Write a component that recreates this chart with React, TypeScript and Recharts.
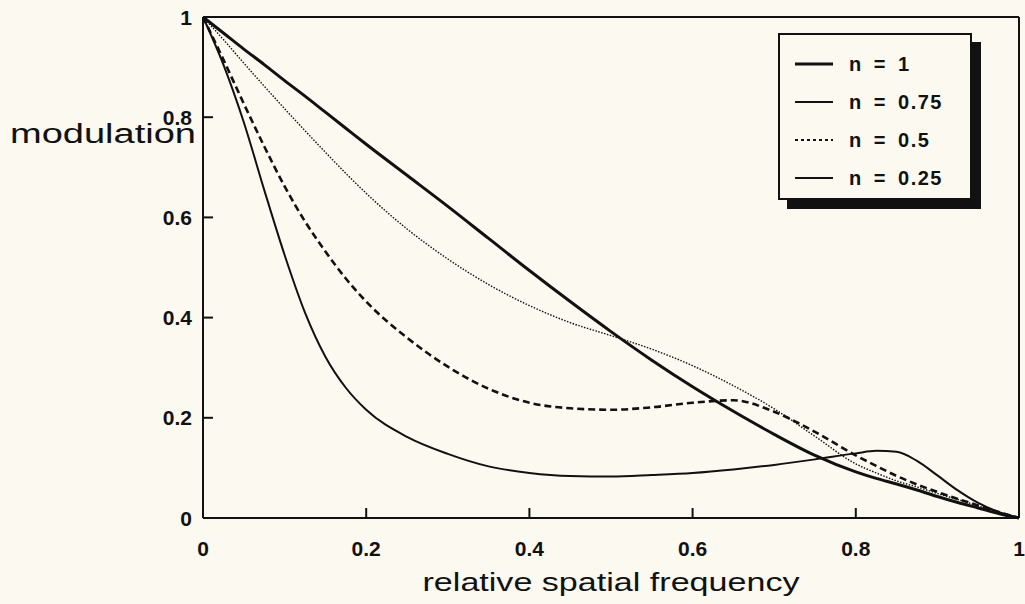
import { LineChart, Line, XAxis, YAxis, ReferenceLine, Legend } from 'recharts';

// relative spatial frequency (x) and modulation values
const freq = [0, 0.025, 0.05, 0.075, 0.1, 0.125, 0.15, 0.175, 0.2, 0.25, 0.3, 0.35, 0.4, 0.45, 0.5, 0.55, 0.6, 0.65, 0.7, 0.75, 0.8, 0.825, 0.85, 0.875, 0.9, 0.925, 0.95, 0.975, 1];
const n1 = [1, 0.968, 0.936, 0.905, 0.873, 0.842, 0.81, 0.778, 0.746, 0.684, 0.622, 0.558, 0.494, 0.432, 0.372, 0.315, 0.262, 0.213, 0.167, 0.125, 0.092, 0.079, 0.068, 0.056, 0.043, 0.031, 0.02, 0.009, 0];
const n075 = [1, 0.955, 0.908, 0.862, 0.817, 0.773, 0.73, 0.688, 0.648, 0.577, 0.517, 0.466, 0.424, 0.39, 0.364, 0.337, 0.304, 0.264, 0.218, 0.163, 0.108, 0.09, 0.074, 0.062, 0.049, 0.037, 0.024, 0.011, 0];
const n05 = [1, 0.915, 0.827, 0.742, 0.662, 0.592, 0.532, 0.478, 0.432, 0.36, 0.302, 0.258, 0.23, 0.219, 0.216, 0.221, 0.23, 0.235, 0.212, 0.172, 0.125, 0.104, 0.084, 0.067, 0.052, 0.038, 0.025, 0.012, 0];
const n025 = [1, 0.905, 0.79, 0.655, 0.525, 0.41, 0.322, 0.26, 0.216, 0.162, 0.128, 0.103, 0.09, 0.084, 0.083, 0.086, 0.09, 0.097, 0.106, 0.117, 0.129, 0.134, 0.132, 0.114, 0.085, 0.055, 0.03, 0.012, 0];

const xTicks = [0, 0.2, 0.4, 0.6, 0.8, 1];
const yTicks = [0, 0.2, 0.4, 0.6, 0.8, 1];

const ink = '#111';
const paper = '#fbf9f0';
const font = '"Liberation Sans", Arial, sans-serif';

const series = [
  { key: 'n1', label: 'n = 1', width: 3, dash: undefined, legendWidth: 3, legendDash: undefined },
  { key: 'n075', label: 'n = 0.75', width: 1.4, dash: '1.5 1.5', legendWidth: 2, legendDash: undefined },
  { key: 'n05', label: 'n = 0.5', width: 2.6, dash: '7 4', legendWidth: 2, legendDash: '3 3' },
  { key: 'n025', label: 'n = 0.25', width: 2, dash: undefined, legendWidth: 2.2, legendDash: undefined },
];

const data = freq.map((f, i) => ({ f, n1: n1[i], n075: n075[i], n05: n05[i], n025: n025[i] }));

const tickText = { fill: ink, fontSize: 21, fontWeight: 700, fontFamily: font };

// tick label plus a short tick mark pointing into the plot
function XTick(p: any) {
  const top = p.y - p.tickMargin;
  return (
    <g>
      {p.payload.value > 0 && p.payload.value < 1 && (
        <path d={`M${p.x},${top}v-10`} stroke={ink} strokeWidth={2} fill="none" />
      )}
      <text x={p.x} y={p.y} dy="0.36em" textAnchor="middle" {...tickText}>
        {p.payload.value}
      </text>
    </g>
  );
}

function YTick(p: any) {
  const left = p.x + p.tickMargin;
  return (
    <g>
      {p.payload.value > 0 && p.payload.value < 1 && (
        <path d={`M${left},${p.y}h10`} stroke={ink} strokeWidth={2} fill="none" />
      )}
      <text x={p.x} y={p.y} dy="0.36em" textAnchor="end" {...tickText}>
        {p.payload.value}
      </text>
    </g>
  );
}

function LegendBox() {
  return (
    <div
      style={{
        width: 190,
        height: 163,
        border: `2px solid ${ink}`,
        background: paper,
        boxShadow: `9px 9px 0 ${ink}`,
        position: 'relative',
        fontFamily: font,
        fontWeight: 700,
        fontSize: 20,
        letterSpacing: 1.5,
        wordSpacing: 4,
        color: ink,
      }}
    >
      {series.map((s, i) => (
        <div
          key={s.key}
          style={{ position: 'absolute', left: 15, top: 16 + i * 38, height: 26, display: 'flex', alignItems: 'center', whiteSpace: 'nowrap' }}
        >
          <svg width={40} height={10} style={{ marginRight: 14 }}>
            <line x1={0} y1={5} x2={38} y2={5} stroke={ink} strokeWidth={s.legendWidth} strokeDasharray={s.legendDash} />
          </svg>
          <span>{s.label}</span>
        </div>
      ))}
    </div>
  );
}

export default function App() {
  return (
    <div style={{ position: 'absolute', left: 0, top: 0, width: 1025, height: 604, background: paper }}>
      <LineChart width={1025} height={604} data={data} margin={{ top: 17, right: 6, bottom: 46, left: 0 }}>
        <XAxis
          dataKey="f"
          type="number"
          domain={[0, 1]}
          ticks={xTicks}
          height={40}
          axisLine={{ stroke: ink, strokeWidth: 2 }}
          tickLine={false}
          tickSize={0}
          tickMargin={30}
          tick={(p: any) => <XTick {...p} tickMargin={30} />}
          label={({ viewBox }: any) => (
            <text
              x={viewBox.x + viewBox.width / 2}
              y={viewBox.y + 73}
              textAnchor="middle"
              fontFamily={font}
              fontSize={26}
              fill={ink}
              textLength={377}
              lengthAdjust="spacingAndGlyphs"
            >
              relative spatial frequency
            </text>
          )}
        />
        <YAxis
          type="number"
          domain={[0, 1]}
          ticks={yTicks}
          width={203}
          axisLine={{ stroke: ink, strokeWidth: 2 }}
          tickLine={false}
          tickSize={0}
          tickMargin={11}
          tick={(p: any) => <YTick {...p} tickMargin={11} />}
          label={({ viewBox }: any) => (
            <text
              x={viewBox.x + 10}
              y={viewBox.y + 126}
              fontFamily={font}
              fontSize={27}
              fill={ink}
              textLength={186}
              lengthAdjust="spacingAndGlyphs"
            >
              modulation
            </text>
          )}
        />
        <ReferenceLine y={1} stroke={ink} strokeWidth={2} />
        <ReferenceLine x={1} stroke={ink} strokeWidth={2} />
        <Legend
          layout="vertical"
          align="center"
          verticalAlign="middle"
          wrapperStyle={{ left: 778, top: 33, width: 200, height: 180 }}
          content={() => <LegendBox />}
        />
        {series.map((s) => (
          <Line
            key={s.key}
            type="monotone"
            dataKey={s.key}
            name={s.label}
            stroke={ink}
            strokeWidth={s.width}
            strokeDasharray={s.dash}
            dot={false}
            activeDot={false}
            isAnimationActive={false}
          />
        ))}
      </LineChart>
    </div>
  );
}
